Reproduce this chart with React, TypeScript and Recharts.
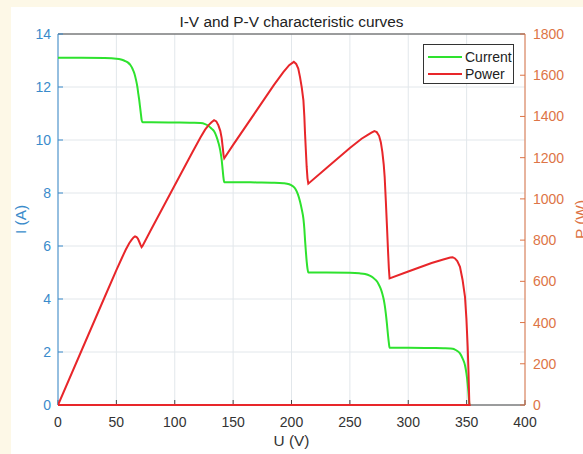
import { CartesianGrid, ComposedChart, Legend, Line, XAxis, YAxis } from "recharts";

const TITLE = "I-V and P-V characteristic curves";
const U_TICKS = [0, 50, 100, 150, 200, 250, 300, 350, 400];
const I_TICKS = [0, 2, 4, 6, 8, 10, 12, 14];
const P_TICKS = [0, 200, 400, 600, 800, 1000, 1200, 1400, 1600, 1800];

// current curve (U in V, I in A)
const uCurrent = [
  0, 20, 40, 50, 54, 57, 60, 62, 64, 65.5, 66.9, 68, 68.8, 69.6, 70.3, 71.1, 71.7, 72.4,
  80, 100, 115, 122, 126, 129, 131.5, 133.7, 135.6, 137.4, 139, 140.2, 141.1, 141.8, 142.4,
  150, 170, 185, 193, 198, 201, 203.5, 205.5, 207.3, 208.8, 210.2, 211, 211.6, 212.3, 213, 213.7, 214.4,
  230, 250, 258, 263, 267, 270, 272.5, 274.5, 276.3, 277.8, 279, 279.9, 280.8, 281.7, 282.6, 283.4, 284,
  300, 320, 330, 336, 338, 340, 342, 344.3, 346.5, 348.6, 349.8, 350.9, 351.6, 352.3,
];
const iCurrent = [
  13.1, 13.1, 13.09, 13.07, 13.04, 12.99, 12.92, 12.83, 12.67, 12.5, 12.25, 12.0, 11.74, 11.5, 11.24, 10.95, 10.74, 10.67,
  10.67, 10.66, 10.65, 10.64, 10.6, 10.53, 10.43, 10.33, 10.15, 9.9, 9.6, 9.25, 8.85, 8.55, 8.41,
  8.41, 8.4, 8.39, 8.37, 8.33, 8.26, 8.14, 7.95, 7.68, 7.38, 7.03, 6.65, 6.22, 5.8, 5.42, 5.15, 5.0,
  5.0, 4.99, 4.97, 4.94, 4.88, 4.8, 4.7, 4.57, 4.4, 4.2, 3.98, 3.75, 3.45, 3.08, 2.66, 2.34, 2.16,
  2.16, 2.15, 2.14, 2.13, 2.12, 2.09, 2.04, 1.95, 1.76, 1.5, 1.2, 0.8, 0.45, 0,
];

// power curve (U in V, P in W); the last point runs back along the axis
const uPower = [
  0, 20, 40, 50, 55, 58, 61, 63, 64.7, 66, 67.3, 68.5, 69.6, 70.6, 71.6, 72.4,
  80, 100, 115, 122, 126, 129, 131.5, 133.7, 135.6, 137.4, 139, 140.2, 141.1, 141.8, 142.4,
  150, 170, 185, 193, 198, 202, 204, 205.8, 207.3, 208.8, 210.2, 211, 211.6, 212.3, 213, 213.7, 214.4,
  230, 250, 260, 265, 268.5, 271, 273, 275, 276.5, 277.8, 279, 279.8, 280.8, 281.8, 282.7, 283.4, 284,
  300, 320, 330, 336, 338, 340, 342, 344.3, 346.5, 348.6, 349.8, 350.9, 351.6, 352.3, 352.6, 0,
];
const pPower = [
  0, 262, 524, 654, 717, 753, 785, 801, 813, 818, 815, 806, 792, 778, 766, 772,
  854, 1066, 1225, 1298, 1336, 1358, 1372, 1382, 1376, 1357, 1330, 1295, 1250, 1212, 1197,
  1262, 1428, 1553, 1615, 1649, 1665, 1655, 1632, 1591, 1540, 1478, 1400, 1316, 1235, 1155, 1100, 1074,
  1150, 1247, 1292, 1309, 1321, 1329, 1324, 1306, 1275, 1228, 1166, 1106, 990, 864, 745, 662, 614,
  648, 689, 706, 716, 717, 711, 698, 670, 608, 525, 420, 282, 160, 10, 0, 0,
];

const currentData = uCurrent.map((u, k) => ({ u, i: iCurrent[k] }));
const powerData = uPower.map((u, k) => ({ u, p: pPower[k] }));

const BLUE = "#3a8bcb";
const ORANGE = "#dd7446";
const GREEN = "#2ee22e";
const RED = "#e8262a";
const DARK = "#444";
const FONT = "'Liberation Sans', Arial, Helvetica, sans-serif";

function SideTitle(props: any) {
  const { viewBox, value, fill, dx } = props;
  const cx = viewBox.x + dx;
  const cy = viewBox.y + viewBox.height / 2;
  return (
    <text x={cx} y={cy} transform={`rotate(-90 ${cx} ${cy})`} textAnchor="middle" fill={fill} fontSize={15.4}>
      {value}
    </text>
  );
}

function ChartTitle(props: any) {
  const { viewBox } = props;
  return (
    <text x={viewBox.x + viewBox.width / 2} y={viewBox.y - 6} textAnchor="middle" fill="#222" fontSize={15.4}>
      {TITLE}
    </text>
  );
}

function XTitle(props: any) {
  const { viewBox } = props;
  return (
    <text x={viewBox.x + viewBox.width / 2} y={viewBox.y + 41} textAnchor="middle" fill="#333" fontSize={15.4}>
      U (V)
    </text>
  );
}

function LegendBox(props: any) {
  const { payload } = props;
  return (
    <div
      style={{
        boxSizing: "border-box",
        width: 91,
        height: 40,
        border: "1px solid #333",
        background: "#fff",
        padding: "3px 0 0 4px",
        fontSize: 14,
        color: "#222",
      }}
    >
      {(payload || []).map((entry: any) => (
        <div key={entry.value} style={{ display: "flex", alignItems: "center", height: 17 }}>
          <span style={{ display: "inline-block", width: 34, height: 2, background: entry.color, marginRight: 3 }} />
          <span>{entry.value}</span>
        </div>
      ))}
    </div>
  );
}

export default function App() {
  return (
    <div
      style={{
        position: "absolute",
        left: 0,
        top: 0,
        width: 583,
        height: 454,
        background: "#fdf8e7",
        fontFamily: FONT,
        overflow: "hidden",
      }}
    >
      <div style={{ position: "absolute", left: 11, top: 7, right: 0, bottom: 0, background: "#fff" }} />
      <div style={{ position: "absolute", left: 0, top: 0 }}>
        <ComposedChart width={583} height={454} margin={{ top: 33, right: 0, bottom: 0, left: 0 }}>
          <CartesianGrid yAxisId="left" stroke="#e2e7eb" ticks={I_TICKS} />
          <XAxis
            dataKey="u"
            type="number"
            domain={[0, 400]}
            ticks={U_TICKS}
            allowDataOverflow
            height={49}
            stroke={DARK}
            tick={{ fill: "#333", fontSize: 14 }}
            tickSize={-5}
            tickMargin={17}
            label={{ content: <XTitle /> }}
          />
          <XAxis
            xAxisId="top"
            orientation="top"
            dataKey="u"
            type="number"
            domain={[0, 400]}
            ticks={U_TICKS}
            height={1}
            stroke={DARK}
            tick={false}
            tickSize={-5}
            label={{ content: <ChartTitle /> }}
          />
          <YAxis
            yAxisId="left"
            type="number"
            domain={[0, 14]}
            ticks={I_TICKS}
            width={58}
            stroke={BLUE}
            tick={{ fill: BLUE, fontSize: 14 }}
            tickSize={-5}
            tickMargin={12}
            label={{ content: <SideTitle value="I (A)" fill={BLUE} dx={25.5} /> }}
          />
          <YAxis
            yAxisId="right"
            orientation="right"
            type="number"
            domain={[0, 1800]}
            ticks={P_TICKS}
            width={58}
            stroke={ORANGE}
            tick={{ fill: ORANGE, fontSize: 14 }}
            tickSize={-5}
            tickMargin={13}
            label={{ content: <SideTitle value="P (W)" fill={ORANGE} dx={61} /> }}
          />
          <Legend
            content={<LegendBox />}
            layout="horizontal"
            verticalAlign="middle"
            align="center"
            wrapperStyle={{ top: 44, left: 423, width: 91, height: 40 }}
          />
          <Line
            name="Current"
            data={currentData}
            dataKey="i"
            yAxisId="left"
            type="monotone"
            stroke={GREEN}
            strokeWidth={2}
            dot={false}
            activeDot={false}
            isAnimationActive={false}
            zIndex={600}
          />
          <Line
            name="Power"
            data={powerData}
            dataKey="p"
            yAxisId="right"
            type="linear"
            stroke={RED}
            strokeWidth={2}
            dot={false}
            activeDot={false}
            isAnimationActive={false}
            zIndex={600}
          />
        </ComposedChart>
      </div>
    </div>
  );
}
